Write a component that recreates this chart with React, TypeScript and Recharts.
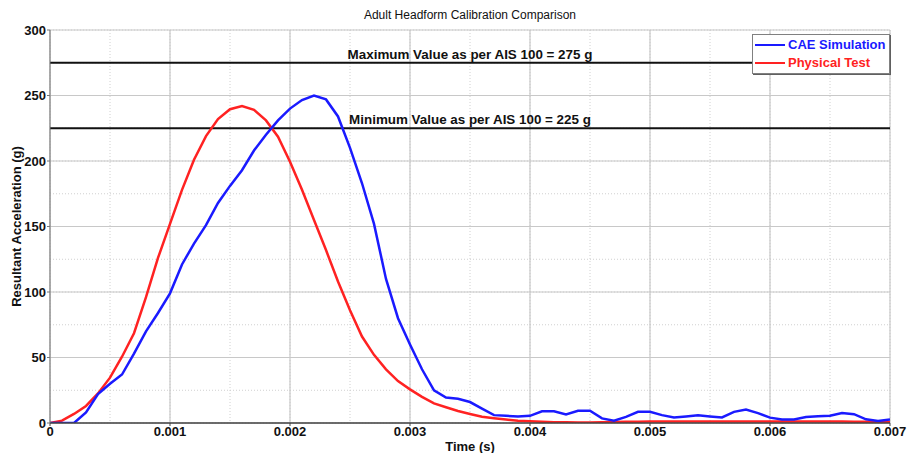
import React from 'react';
import {
  LineChart, Line, XAxis, YAxis, CartesianGrid, ReferenceLine, Legend,
} from 'recharts';

const timeValues = [
  0, 0.0001, 0.0002, 0.0003, 0.0004, 0.0005, 0.0006, 0.0007, 0.0008, 0.0009,
  0.001, 0.0011, 0.0012, 0.0013, 0.0014, 0.0015, 0.0016, 0.0017, 0.0018, 0.0019,
  0.002, 0.0021, 0.0022, 0.0023, 0.0024, 0.0025, 0.0026, 0.0027, 0.0028, 0.0029,
  0.003, 0.0031, 0.0032, 0.0033, 0.0034, 0.0035, 0.0036, 0.0037, 0.0038, 0.0039,
  0.004, 0.0041, 0.0042, 0.0043, 0.0044, 0.0045, 0.0046, 0.0047, 0.0048, 0.0049,
  0.005, 0.0051, 0.0052, 0.0053, 0.0054, 0.0055, 0.0056, 0.0057, 0.0058, 0.0059,
  0.006, 0.0061, 0.0062, 0.0063, 0.0064, 0.0065, 0.0066, 0.0067, 0.0068, 0.0069,
  0.007,
];

const caeSimulation = [
  0, 0, 0, 8, 22, 30, 37, 53, 70, 84,
  99, 121, 137, 151, 168, 181, 193, 208, 220, 231,
  240, 246.5, 250, 247, 234, 210, 183, 152, 110, 80,
  60, 41, 25, 19.5, 18.5, 16, 11, 6, 5.5, 5,
  5.5, 9, 9, 6.5, 9.3, 9.3, 3.5, 1.8, 4.7, 8.5,
  8.5, 6, 4.2, 5, 5.9, 5, 4.2, 8.5, 10.3, 7.5,
  4.1, 2.6, 2.6, 4.6, 5.2, 5.6, 7.7, 6.7, 2.8, 1.5,
  2.6,
];

const physicalTest = [
  0, 1.8, 6.9, 13, 22.6, 34.6, 50.6, 68.5, 96, 126,
  152, 178, 201, 219, 232, 239.5, 242, 239, 231, 218.6,
  199.5, 178, 155, 132, 108, 86, 66, 52, 41, 32,
  25.7, 20, 15, 12, 9.2, 6.9, 4.8, 3.6, 2.6, 1.8,
  1.3, 0.9, 0.6, 0.5, 0.4, 0.4, 0.5, 0.7, 0.9, 1.0,
  1.1, 1.2, 1.2, 1.2, 1.2, 1.2, 1.2, 1.2, 1.2, 1.2,
  1.2, 1.2, 1.2, 1.2, 1.2, 1.2, 1.1, 1.0, 0.9, 0.7,
  0.5,
];

const xTicks = [0, 0.001, 0.002, 0.003, 0.004, 0.005, 0.006, 0.007];
const xTickLabels = ['0', '0.001', '0.002', '0.003', '0.004', '0.005', '0.006', '0.007'];
const xMinorTicks = [0, 0.0005, 0.001, 0.0015, 0.002, 0.0025, 0.003, 0.0035, 0.004, 0.0045, 0.005, 0.0055, 0.006, 0.0065, 0.007];
const yTicks = [0, 50, 100, 150, 200, 250, 300];
const yMinorTicks = [0, 25, 50, 75, 100, 125, 150, 175, 200, 225, 250, 275, 300];

const maxLimit = 275;
const minLimit = 225;
const maxLabel = 'Maximum Value as per AIS 100 = 275 g';
const minLabel = 'Minimum Value as per AIS 100 = 225 g';
const title = 'Adult Headform Calibration Comparison';
const seriesNames = ['CAE Simulation', 'Physical Test'];
const seriesColors = ['#1a1aff', '#ff2222'];

const data = timeValues.map((t, i) => ({
  t,
  cae: caeSimulation[i],
  phys: physicalTest[i],
}));

const FONT = 'Arial, "Liberation Sans", sans-serif';

const LegendBox = () => (
  <div
    style={{
      border: '1px solid #808080',
      boxShadow: '1px 1px 0 #606060',
      background: '#fff',
      padding: '1px 2px 1px 2px',
      fontFamily: FONT,
      fontWeight: 'bold',
      fontSize: 13,
      lineHeight: '18px',
      width: 132,
      whiteSpace: 'nowrap',
      boxSizing: 'content-box',
    }}
  >
    {seriesNames.map((name, i) => (
      <div key={name} style={{ display: 'flex', alignItems: 'center', height: 18 }}>
        <span style={{ display: 'inline-block', width: 30, height: 2, background: seriesColors[i], marginRight: 3, flexShrink: 0 }} />
        <span style={{ color: seriesColors[i] }}>{name}</span>
      </div>
    ))}
  </div>
);

const YLabel = (props: any) => {
  const vb = props.viewBox || {};
  const x = vb.x + 16;
  const y = vb.y + vb.height / 2;
  return (
    <text
      x={x}
      y={y}
      transform={`rotate(-90, ${x}, ${y})`}
      textAnchor="middle"
      dominantBaseline="central"
      fontFamily={FONT}
      fontWeight="bold"
      fontSize={13}
      fill="#111"
    >
      Resultant Acceleration (g)
    </text>
  );
};

export default function App() {
  return (
    <div style={{ position: 'absolute', left: 0, top: 0, width: 907, height: 453, background: '#fff' }}>
      <div
        style={{
          position: 'absolute', left: 50, top: 8, width: 840, textAlign: 'center',
          fontFamily: FONT, fontSize: 12, color: '#111',
        }}
      >
        {title}
      </div>
      <LineChart
        width={907}
        height={453}
        data={data}
        margin={{ top: 30, right: 17, bottom: 0, left: 0 }}
      >
        <XAxis xAxisId="minor" type="number" dataKey="t" domain={[0, 0.007]} ticks={xMinorTicks} hide allowDataOverflow />
        <YAxis yAxisId="minor" type="number" domain={[0, 300]} ticks={yMinorTicks} hide allowDataOverflow />
        <CartesianGrid
          xAxisId="minor"
          yAxisId="minor"
          stroke="#d0d0d0"
          strokeDasharray="1 2"
        />
        <CartesianGrid stroke="#c8c8c8" strokeWidth={1.2} />
        <XAxis
          type="number"
          dataKey="t"
          domain={[0, 0.007]}
          ticks={xTicks}
          tickFormatter={(v: number, i: number) => xTickLabels[i]}
          interval={0}
          height={30}
          tickSize={3}
          tickMargin={1}
          axisLine={{ stroke: '#444', strokeWidth: 1.5 }}
          tickLine={{ stroke: '#444' }}
          tick={{ fontFamily: FONT, fontWeight: 'bold', fontSize: 13, fill: '#111' }}
          label={{ value: 'Time (s)', position: 'insideBottom', offset: 2, fontFamily: FONT, fontWeight: 'bold', fontSize: 13, fill: '#111' }}
          allowDataOverflow
        />
        <YAxis
          type="number"
          domain={[0, 300]}
          ticks={yTicks}
          interval={0}
          width={50}
          tickSize={3}
          tickMargin={1}
          axisLine={{ stroke: '#777' }}
          tickLine={{ stroke: '#777' }}
          tick={{ fontFamily: FONT, fontWeight: 'bold', fontSize: 13, fill: '#111' }}
          label={<YLabel />}
          allowDataOverflow
        />
        <ReferenceLine
          y={maxLimit}
          stroke="#111"
          strokeWidth={2}
          label={{ value: maxLabel, position: 'top', offset: 4, fontFamily: FONT, fontWeight: 'bold', fontSize: 13.4, fill: '#111' }}
        />
        <ReferenceLine
          y={minLimit}
          stroke="#111"
          strokeWidth={2}
          label={{ value: minLabel, position: 'top', offset: 4, fontFamily: FONT, fontWeight: 'bold', fontSize: 13.4, fill: '#111' }}
        />
        <Line
          type="linear"
          dataKey="phys"
          name={seriesNames[1]}
          stroke={seriesColors[1]}
          strokeWidth={2.5}
          dot={false}
          isAnimationActive={false}
        />
        <Line
          type="linear"
          dataKey="cae"
          name={seriesNames[0]}
          stroke={seriesColors[0]}
          strokeWidth={2.5}
          dot={false}
          isAnimationActive={false}
        />
        <Legend
          layout="horizontal"
          align="center"
          verticalAlign="middle"
          content={() => <LegendBox />}
          wrapperStyle={{ position: 'absolute', left: 752, top: 34, width: 'auto', height: 'auto' }}
        />
      </LineChart>
    </div>
  );
}
